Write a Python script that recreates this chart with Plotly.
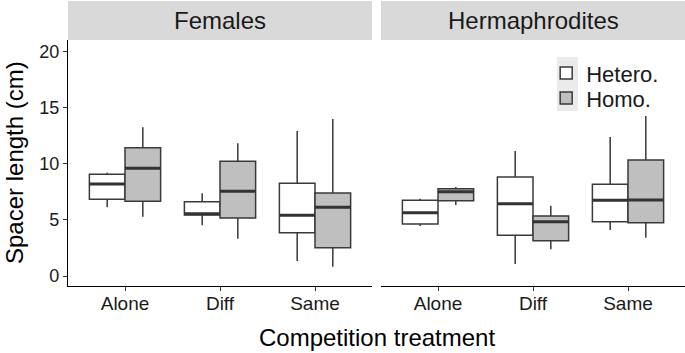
import plotly.graph_objects as go

categories = ["Alone", "Diff", "Same"]
panels = ["Females", "Hermaphrodites"]
groups = ["Hetero.", "Homo."]

# Females
fem_het_low = [6.12, 4.52, 1.34]
fem_het_q1 = [6.83, 5.44, 3.86]
fem_het_med = [8.20, 5.55, 5.41]
fem_het_q3 = [9.06, 6.62, 8.26]
fem_het_up = [9.20, 7.37, 12.92]

fem_hom_low = [5.29, 3.33, 0.83]
fem_hom_q1 = [6.66, 5.17, 2.52]
fem_hom_med = [9.60, 7.55, 6.12]
fem_hom_q3 = [11.44, 10.22, 7.40]
fem_hom_up = [13.25, 11.83, 13.99]

# Hermaphrodites
her_het_low = [4.46, 1.07, 4.10]
her_het_q1 = [4.63, 3.63, 4.84]
her_het_med = [5.64, 6.44, 6.75]
her_het_q3 = [6.75, 8.82, 8.17]
her_het_up = [6.89, 11.14, 12.39]

her_hom_low = [6.33, 2.38, 3.41]
her_hom_q1 = [6.71, 3.15, 4.75]
her_hom_med = [7.51, 4.84, 6.77]
her_hom_q3 = [7.78, 5.35, 10.34]
her_hom_up = [7.93, 6.27, 14.26]

y_ticks = [0, 5, 10, 15, 20]

fills = {"Hetero.": "#ffffff", "Homo.": "#bfbfbf"}
legend_ids = {"Hetero.": "legend", "Homo.": "legend2"}
edge = "#3a3a3a"
FONT = "Liberation Sans, Arial, sans-serif"

data = {
    ("Females", "Hetero."): (fem_het_low, fem_het_q1, fem_het_med, fem_het_q3, fem_het_up),
    ("Females", "Homo."): (fem_hom_low, fem_hom_q1, fem_hom_med, fem_hom_q3, fem_hom_up),
    ("Hermaphrodites", "Hetero."): (her_het_low, her_het_q1, her_het_med, her_het_q3, her_het_up),
    ("Hermaphrodites", "Homo."): (her_hom_low, her_hom_q1, her_hom_med, her_hom_q3, her_hom_up),
}

fig = go.Figure()
for pi, panel in enumerate(panels):
    xa = "x" if pi == 0 else "x2"
    ya = "y" if pi == 0 else "y2"
    for g in groups:
        low, q1, med, q3, up = data[(panel, g)]
        fig.add_trace(go.Box(
            x=categories, q1=q1, median=med, q3=q3, lowerfence=low, upperfence=up,
            name=g, legendgroup=g, showlegend=(pi == 0), legend=legend_ids[g],
            offsetgroup=g, alignmentgroup="a",
            fillcolor=fills[g], line=dict(color=edge, width=1.5),
            whiskerwidth=0, boxpoints=False, xaxis=xa, yaxis=ya,
        ))
    for g in groups:
        low, q1, med, q3, up = data[(panel, g)]
        fig.add_trace(go.Box(
            x=categories, q1=med, median=med, q3=med, lowerfence=med, upperfence=med,
            name=g, legendgroup=g, showlegend=False,
            offsetgroup=g, alignmentgroup="a",
            fillcolor=fills[g], line=dict(color="#333333", width=3),
            whiskerwidth=0, boxpoints=False, xaxis=xa, yaxis=ya, hoverinfo="skip",
        ))

d1 = [0, 304 / 617]
d2 = [313 / 617, 1]
xcommon = dict(
    type="category", categoryorder="array", categoryarray=categories,
    range=[-0.6, 2.6], showline=True, linecolor="#000000", linewidth=1.2,
    ticks="outside", ticklen=4, tickcolor="#333333", tickwidth=1,
    ticklabelstandoff=-4,
    tickfont=dict(family=FONT, size=19, color="#1a1a1a"),
    showgrid=False, zeroline=False, fixedrange=True,
)
legend_common = dict(x=0.775, xanchor="left", yanchor="top",
                     bgcolor="rgba(0,0,0,0)", font=dict(family=FONT, size=22, color="#1a1a1a"),
                     tracegroupgap=0, itemwidth=30)
fig.update_layout(
    xaxis=dict(domain=d1, anchor="y", **xcommon),
    xaxis2=dict(domain=d2, anchor="y2", **xcommon),
    yaxis=dict(range=[-0.89, 21.03], tickvals=y_ticks, showline=True, linecolor="#000000",
               linewidth=1.2, ticks="outside", ticklen=4, tickcolor="#333333",
               tickfont=dict(family=FONT, size=18, color="#1a1a1a"),
               showgrid=False, zeroline=False, anchor="x"),
    yaxis2=dict(range=[-0.89, 21.03], matches="y", showline=False, ticks="",
                showticklabels=False, showgrid=False, zeroline=False, anchor="x2"),
    boxmode="group", boxgap=0.25, boxgroupgap=0,
    width=685, height=353,
    margin=dict(l=68, r=0, t=40, b=67),
    plot_bgcolor="#ffffff", paper_bgcolor="#ffffff",
    font=dict(family=FONT, color="#1a1a1a"),
    legend=dict(y=0.95, **legend_common),
    legend2=dict(y=0.95 - 25 / 246, **legend_common),
)

# grey legend-key background (ggplot style)
fig.add_shape(type="rect", xref="paper", yref="paper",
              x0=(557 - 68) / 617, x1=(578 - 68) / 617,
              y0=(286 - 111) / 246, y1=(286 - 57) / 246,
              fillcolor="#ebebeb", line=dict(width=0), layer="above")

strip_top = 1 + 39 / 246
for dom, panel in ((d1, panels[0]), (d2, panels[1])):
    fig.add_shape(type="rect", xref="paper", yref="paper", x0=dom[0], x1=dom[1],
                  y0=1, y1=strip_top, fillcolor="#d9d9d9", line=dict(width=0), layer="below")
    fig.add_annotation(text=panel, xref="paper", yref="paper", x=(dom[0] + dom[1]) / 2,
                       y=(1 + strip_top) / 2, showarrow=False, xanchor="center", yanchor="middle",
                       font=dict(family=FONT, size=24, color="#1a1a1a"))

fig.add_annotation(text="Spacer length (cm)", xref="paper", yref="paper",
                   x=(14 - 68) / 617, y=0.5, textangle=-90, showarrow=False,
                   xanchor="center", yanchor="middle",
                   font=dict(family=FONT, size=24, color="#000000"))
fig.add_annotation(text="Competition treatment", xref="paper", yref="paper",
                   x=0.5, y=-(337 - 286) / 246, showarrow=False,
                   xanchor="center", yanchor="middle",
                   font=dict(family=FONT, size=24, color="#000000"))

fig.write_html("out.html", config={"displayModeBar": False},
               post_script="document.body.style.margin='0px';")
